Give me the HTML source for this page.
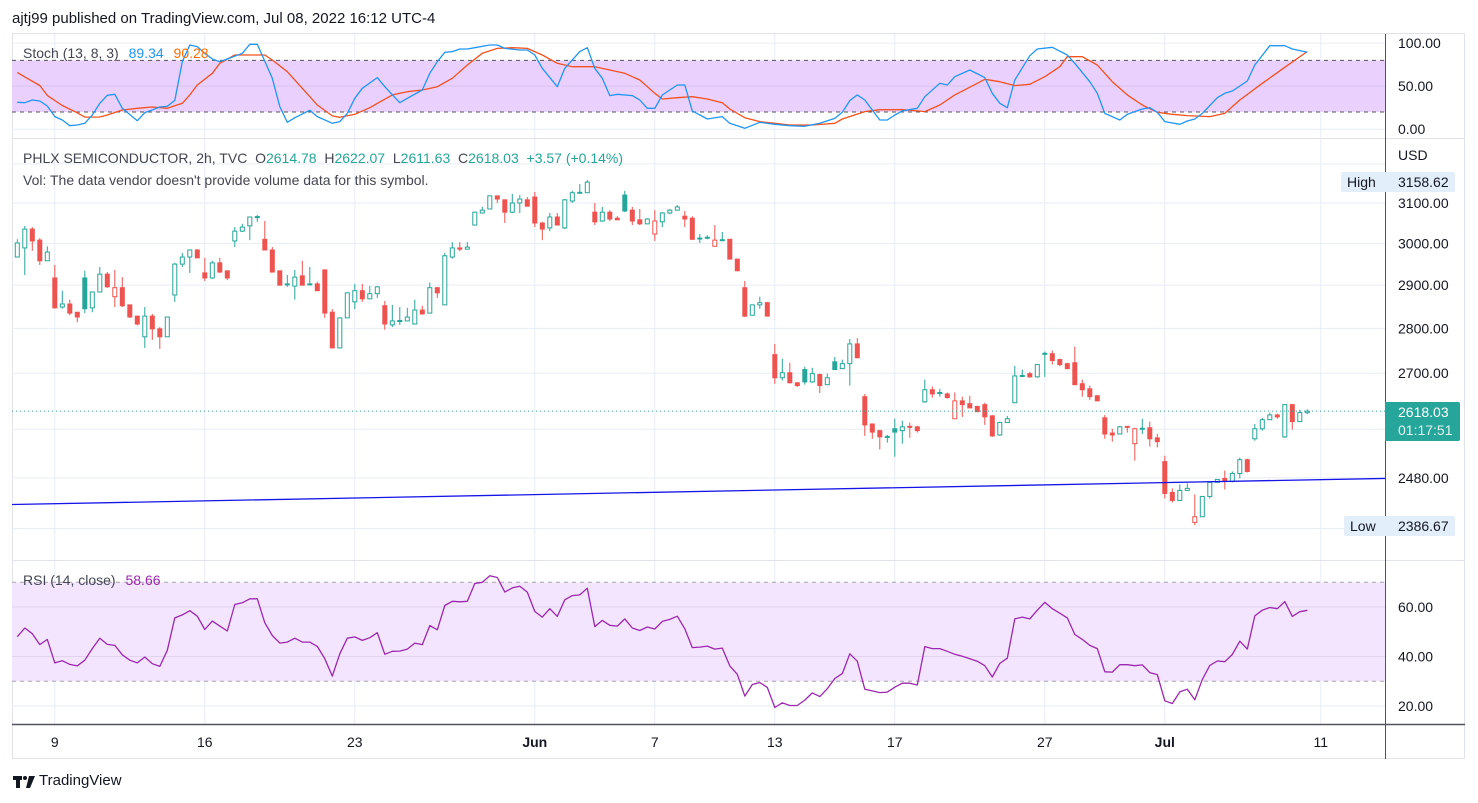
<!DOCTYPE html>
<html><head><meta charset="utf-8"><title>PHLX Semiconductor 2h</title>
<style>
html,body{margin:0;padding:0;background:#fff;}
body{width:1478px;height:803px;position:relative;overflow:hidden;font-family:"Liberation Sans",sans-serif;color:#131722;}
.t{position:absolute;white-space:nowrap;font-size:14px;line-height:16px;}
svg{position:absolute;left:0;top:0;}
</style></head><body>
<svg id="chart" width="1478" height="803" xmlns="http://www.w3.org/2000/svg"></svg>

<div class="t" style="left:12px;top:11px;font-size:15px;color:#131722;">ajtj99 published on TradingView.com, Jul 08, 2022 16:12 UTC-4</div>

<div class="t" style="left:23px;top:45px;color:#434651;">Stoch (13, 8, 3) <span style="color:#2196f3;margin-left:6px;">89.34</span> <span style="color:#ff6d00;margin-left:6px;">90.28</span></div>

<div class="t" style="left:23px;top:150px;color:#434651;">PHLX SEMICONDUCTOR, 2h, TVC &nbsp;O<span style="color:#26a69a">2614.78</span> &nbsp;H<span style="color:#26a69a">2622.07</span> &nbsp;L<span style="color:#26a69a">2611.63</span> &nbsp;C<span style="color:#26a69a">2618.03</span> &nbsp;<span style="color:#26a69a">+3.57 (+0.14%)</span></div>
<div class="t" style="left:23px;top:172px;color:#434651;">Vol: The data vendor doesn't provide volume data for this symbol.</div>

<div class="t" style="left:23px;top:572px;color:#434651;">RSI (14, close) <span style="color:#9c27b0;margin-left:6px;">58.66</span></div>

<div class="t" style="left:1398px;top:147px;color:#131722;">USD</div>

<div style="position:absolute;left:1341px;top:172px;width:114px;height:20px;background:#e3eefb;border-radius:2px;"></div>
<div class="t" style="left:1347px;top:174px;">High</div>
<div class="t" style="left:1398px;top:174px;">3158.62</div>

<div style="position:absolute;left:1344px;top:516px;width:111px;height:20px;background:#e3eefb;border-radius:2px;"></div>
<div class="t" style="left:1350px;top:518px;">Low</div>
<div class="t" style="left:1398px;top:518px;">2386.67</div>

<div style="position:absolute;left:1385px;top:402px;width:75px;height:39px;background:#26a69a;border-radius:0 2px 2px 0;"></div>
<div class="t" style="left:1398px;top:404px;color:#fff;">2618.03</div>
<div class="t" style="left:1398px;top:422px;color:#e0f5f2;">01:17:51</div>

<div style="position:absolute;left:13px;top:773px;height:18px;">
<svg width="24" height="16" style="position:absolute;left:0;top:1px;"><rect x="0" y="2" width="9" height="4" fill="#131722"/><rect x="3" y="2" width="4" height="12" fill="#131722"/><circle cx="12" cy="4" r="2" fill="#131722"/><path d="M16 2 H22 L17 14 H13 Z" fill="#131722"/></svg>
<span class="t" style="left:26px;top:0;font-size:15px;color:#131722;">TradingView</span></div>

<script>
// ---- candle data (2h bars) ----
const opens=[2967,2989,3035,3008,2958,2917,2849,2856,2837,2917,2847,2884,2926,2873,2894,2854,2828,2781,2828,2799,2781,2877,2950,2967,2984,2929,2917,2953,2934,3006,3030,3043,3064,3010,2984,2934,2901,2898,2922,2901,2903,2936,2837,2756,2824,2861,2887,2868,2880,2852,2808,2816,2817,2810,2842,2835,2894,2854,2967,2989,2986,3045,3075,3085,3118,3108,3077,3100,3108,3115,3050,3038,3065,3038,3105,3125,3126,3077,3055,3077,3062,3120,3082,3058,3048,3023,3053,3075,3082,3067,3062,3011,3013,2993,3007,3010,2962,2894,2830,2854,2859,2741,2690,2701,2679,2708,2681,2697,2675,2725,2710,2721,2765,2649,2591,2577,2563,2581,2577,2586,2585,2638,2664,2658,2655,2602,2640,2634,2628,2632,2608,2568,2594,2636,2693,2699,2692,2742,2743,2730,2721,2723,2677,2666,2651,2604,2572,2570,2586,2550,2580,2583,2562,2513,2451,2435,2455,2392,2403,2443,2471,2479,2473,2489,2517,2560,2581,2600,2610,2564,2632,2596,2614.78];
const highs=[3010,3043,3040,3013,2993,2948,2887,2866,2837,2934,2884,2943,2931,2936,2919,2854,2828,2849,2833,2803,2826,2953,2977,2984,2986,2965,2958,2965,2934,3040,3048,3065,3070,3055,2991,2934,2924,2936,2958,2943,2908,2938,2844,2824,2882,2903,2903,2898,2898,2863,2854,2849,2847,2866,2852,2906,2896,2977,3003,3003,3003,3078,3090,3118,3118,3108,3123,3120,3115,3128,3053,3075,3075,3110,3131,3148,3158.62,3100,3090,3082,3067,3131,3090,3085,3062,3082,3077,3085,3095,3080,3067,3023,3020,3045,3028,3010,2962,2910,2854,2873,2861,2765,2732,2723,2681,2714,2712,2699,2699,2736,2730,2776,2778,2655,2591,2579,2568,2602,2598,2594,2587,2686,2671,2666,2658,2658,2649,2651,2630,2636,2610,2596,2608,2716,2708,2703,2719,2748,2750,2732,2723,2759,2686,2673,2653,2610,2581,2587,2586,2583,2602,2596,2570,2525,2459,2467,2469,2447,2443,2473,2477,2495,2493,2521,2519,2591,2604,2615,2613,2632,2632,2621,2622.07];
const lows=[2966,2924,2982,2948,2958,2847,2845,2830,2814,2835,2837,2884,2894,2849,2849,2824,2807,2756,2774,2754,2781,2861,2943,2929,2965,2910,2915,2929,2912,2991,3028,3008,3053,2984,2931,2900,2896,2866,2900,2900,2887,2824,2756,2756,2824,2844,2861,2868,2870,2797,2803,2808,2817,2810,2833,2835,2870,2854,2963,2981,2986,3045,3075,3085,3100,3050,3075,3075,3092,3040,3008,3030,3045,3035,3100,3124,3126,3045,3053,3055,3058,3077,3045,3045,3048,3006,3040,3072,3082,3040,3008,3001,3010,2993,3006,2962,2934,2826,2830,2845,2828,2677,2684,2679,2670,2675,2679,2657,2675,2708,2710,2673,2734,2566,2560,2538,2552,2523,2550,2562,2573,2636,2647,2649,2645,2602,2606,2625,2617,2589,2564,2566,2594,2636,2692,2690,2690,2692,2719,2715,2710,2675,2649,2642,2640,2560,2554,2570,2573,2515,2570,2544,2542,2439,2431,2435,2455,2386.67,2403,2439,2471,2457,2471,2479,2491,2556,2577,2600,2602,2562,2579,2596,2611.63];
const closes=[3001,3035,3006,2958,2979,2847,2856,2835,2826,2845,2884,2926,2896,2894,2852,2826,2810,2828,2799,2781,2826,2950,2967,2984,2965,2917,2953,2931,2917,3030,3040,3065,3066,2984,2931,2900,2903,2919,2900,2903,2887,2835,2756,2824,2882,2887,2868,2880,2896,2810,2817,2818,2826,2842,2833,2894,2882,2970,2989,2986,2991,3077,3082,3118,3110,3077,3100,3110,3092,3050,3035,3065,3045,3108,3126,3127,3153,3053,3077,3060,3058,3080,3055,3048,3060,3055,3075,3082,3090,3060,3010,3013,3015,3008,3009,2962,2934,2828,2854,2859,2828,2690,2701,2679,2673,2681,2699,2673,2690,2708,2721,2765,2734,2589,2574,2564,2565,2574,2585,2584,2577,2664,2655,2656,2647,2640,2632,2625,2617,2606,2566,2594,2602,2694,2695,2692,2719,2744,2728,2719,2710,2675,2664,2649,2640,2570,2568,2585,2584,2581,2582,2560,2554,2449,2435,2455,2459,2403,2443,2471,2477,2473,2489,2517,2493,2581,2600,2610,2606,2632,2596,2615,2618.03];

// ---- stochastic (vertex bars / values) ----
const kBars=[0,1,2,3,4,5,6,7,8,9,10,11,12,13,14,16,17,19,20,21,22,23,24,25,26,27,28,30,31,32,34,35,36,37,39,40,42,43,44,45,46,48,49,51,52,54,55,56,57,58,59,60,61,63,64,65,67,68,69,70,72,73,75,76,77,78,79,80,82,83,84,85,86,88,89,90,92,94,95,97,99,101,103,105,107,109,110,111,112,113,115,116,117,118,120,121,123,124,125,127,129,130,131,132,133,135,136,138,140,141,143,144,145,147,148,150,151,152,153,155,156,157,158,160,161,162,164,165,167,169,170,172];
const kVals=[31.2,30.8,33.9,32.8,27.0,14.6,10.7,4.1,4.9,6.8,16.5,30.1,39.4,40.5,24.3,9.9,19.2,25.8,26.6,33.5,78.4,97.8,95.9,88.1,81.5,78.4,81.5,88.1,98.6,98.6,59.1,26.2,8.0,13.4,21.9,14.6,6.8,8.8,18.4,35.9,47.5,59.9,49.4,30.8,35.9,45.5,64.9,78.4,89.3,90.1,93.1,93.1,94.7,97.8,97.8,93.9,92.0,92.0,86.2,70.7,49.4,70.7,90.1,94.7,70.7,59.1,39.0,40.5,39.0,33.9,24.3,24.3,39.7,51.3,51.3,21.2,11.9,14.6,6.8,1.0,8.0,5.7,4.1,3.4,6.8,12.6,19.6,33.2,39.8,33.9,10.7,10.7,16.5,21.2,24.3,37.8,53.3,51.3,61.0,68.8,59.9,41.7,30.1,25.0,57.2,85.4,93.1,95.1,86.2,76.5,55.2,41.7,18.4,10.7,17.3,23.5,25.0,19.6,8.8,5.7,9.5,11.9,18.4,36.6,41.7,44.4,56.0,74.6,97.0,97.0,93.1,89.34];
const dBars=[0,1,3,4,6,8,9,11,12,14,16,18,20,22,23,24,26,27,29,33,34,36,38,40,42,43,45,47,50,52,54,56,58,60,62,64,66,68,70,72,74,77,79,81,83,85,86,88,90,92,94,95,97,99,101,103,106,109,110,113,115,118,120,121,123,125,128,129,131,133,135,137,139,140,142,144,146,148,150,152,154,156,159,161,163,166,169,172];
const dVals=[66,60.8,50.8,39.2,27.5,19.0,14.0,14.2,16.5,22.3,24.3,25.8,24.3,30.1,39.8,51.3,64.9,76.5,86.2,86.2,80.4,66.8,47.5,28.1,15.4,13.8,17.3,25.0,39.8,43.6,45.5,49.4,59.1,74.6,88.1,93.9,94.7,93.9,86.2,76.5,72.6,72.6,68.8,64.9,57.2,41.7,35.1,36.6,37.8,35.1,30.8,23.5,13.4,8.8,6.8,4.9,4.9,6.8,11.9,20.4,22.7,22.7,21.2,20.4,28.1,39.8,53.3,57.9,55.2,50.6,52.1,61.0,72.6,84.2,84.2,74.6,55.2,39.8,28.1,19.6,17.3,15.8,14.6,18.4,33.9,53.3,71.9,90.28];

// ---- RSI per bar ----
const rsiVals=[48,51.5,49.2,44.8,46.9,37.4,38.3,36.8,36.2,38.5,43.2,47.4,44.9,44.5,40.7,38.5,37.4,39.8,37.1,36.0,42.5,55.6,56.8,58.5,56.3,50.9,54.3,52.3,50.3,61.0,61.7,63.3,63.3,53.6,48.5,45.4,45.8,47.4,45.8,45.8,44.1,39.1,32.1,41.1,47.4,47.9,46.5,47.6,49.6,40.9,42.1,42.2,43.0,45.4,44.8,52.5,50.8,60.6,62.3,62.1,62.3,69.5,70.0,72.6,71.9,66.0,67.7,68.4,66.0,58.2,55.9,59.3,56.2,62.9,64.6,64.9,67.6,52.1,54.6,52.6,52.3,55.2,51.5,50.5,51.9,51.1,54.2,55.0,56.3,51.2,43.6,43.8,44.2,43.0,43.4,36.2,32.8,24.0,28.7,29.5,27.5,19.4,21.3,20.2,20.2,22.4,25.3,23.8,27.0,31.1,33.1,41.1,38.1,26.8,26.1,25.4,25.6,27.6,29.2,29.2,28.5,44.0,43.2,43.2,42.1,40.9,40.1,39.1,38.1,36.3,31.7,37.2,39.3,55.2,55.9,55.2,58.7,61.9,59.3,57.5,55.6,48.9,46.9,44.5,43.2,33.8,33.7,36.7,36.7,36.3,36.6,33.5,32.7,22.1,21.0,25.7,26.8,22.5,30.7,36.4,38.2,37.9,40.8,46.2,43.0,56.4,58.7,59.8,59.3,62.2,56.2,58.1,58.66];

// ---- axes / ticks ----
const priceTicks=[3200,3100,3000,2900,2800,2700,2580,2480,2380];
const priceLabelTicks=[3100,3000,2900,2800,2700,2480];
const stochTicks=[100,50,0];
const rsiTicks=[60,40,20];
const dateLabels=["9","16","23","Jun","7","13","17","27","Jul","11"];
const dateBars=[5,25,45,69,85,101,117,137,153,173.8];
const trendBars=[-0.7,182.4];
const trendPrices=[2427,2479];
const lastPrice=2618.03;

const NS="http://www.w3.org/2000/svg";
const svg=document.getElementById('chart');
const L=12,R=1385;
const xOf=i=>17.3+i*7.5;
const yP=p=>203+(Math.log(3100)-Math.log(p))*1232;
const yS=v=>129.2-0.861*v;
const yR=v=>607+(60-v)*2.475;

function mk(tag,attrs,parent){const e=document.createElementNS(NS,tag);for(const k in attrs)e.setAttribute(k,attrs[k]);(parent||svg).appendChild(e);return e;}

const defs=mk('defs',{});
[['clipS',33,105],['clipM',138,422],['clipR',560,164]].forEach(c=>{const cp=mk('clipPath',{id:c[0]},defs);mk('rect',{x:L,y:c[1],width:R-L,height:c[2]},cp);});

const frame=mk('rect',{x:12.5,y:33.5,width:1452,height:725,fill:'none',stroke:'#e0e3eb'});



dateBars.forEach((b,k)=>{
  const g=mk('line',{x1:xOf(b),x2:xOf(b),y1:34,y2:724,stroke:'#e6edf4','stroke-width':1});
  
  
  const t=mk('text',{x:xOf(b),y:747,'text-anchor':'middle','font-size':14,fill:'#131722','font-family':'Liberation Sans, sans-serif','font-weight':(dateLabels[k]==='Jun'||dateLabels[k]==='Jul')?'bold':'normal'});
  t.textContent=dateLabels[k];
  
  
});

// ---- stoch pane ----
const sband=mk('rect',{x:L,y:yS(80),width:R-L,height:yS(20)-yS(80),fill:'#e9d0fd'});


stochTicks.forEach(v=>{
  const g=mk('line',{x1:L,x2:R,y1:yS(v),y2:yS(v),stroke:v===50?'#d8c2ef':'#e6edf4'});
  
  
  const t=mk('text',{x:1398,y:yS(v)+5,'font-size':14,fill:'#131722','font-family':'Liberation Sans, sans-serif'});
  t.textContent=v.toFixed(2);
  
  
});
[80,20].forEach(v=>{const d=mk('line',{x1:L,x2:R,y1:yS(v),y2:yS(v),stroke:'#555','stroke-dasharray':'4 4'});
  
  });
function poly(bars,vals,fy,color,clip,name){
  const pts=bars.map((b,k)=>xOf(b).toFixed(1)+','+fy(vals[k]).toFixed(1)).join(' ');
  const p=mk('polyline',{points:pts,fill:'none',stroke:color,'stroke-width':1.3,'clip-path':'url(#'+clip+')','stroke-linejoin':'round'});
  
  
}
poly(dBars,dVals,yS,'#f4511e','clipS','stoch-d-line');
poly(kBars,kVals,yS,'#2196f3','clipS','stoch-k-line');
const sep1=mk('line',{x1:12,x2:1465,y1:138.5,y2:138.5,stroke:'#e0e3eb'});



// ---- main pane ----
priceTicks.forEach(p=>{
  const g=mk('line',{x1:L,x2:R,y1:yP(p),y2:yP(p),stroke:'#e6edf4'});
  
  
});
priceLabelTicks.forEach(p=>{
  const t=mk('text',{x:1398,y:yP(p)+5,'font-size':14,fill:'#131722','font-family':'Liberation Sans, sans-serif'});
  t.textContent=p.toFixed(2);
  
  
});
const gC=mk('g',{'clip-path':'url(#clipM)'});


closes.forEach((c,i)=>{
  const o=opens[i],h=highs[i],l=lows[i];
  const prev=i>0?closes[i-1]:o;
  const col=c>=prev?'#26a69a':'#ef5350';
  const hollow=c>o;
  const x=xOf(i);
  const w=mk('line',{x1:x,x2:x,y1:yP(h),y2:yP(l),stroke:col,'stroke-width':1},gC);
  
  
  const top=yP(Math.max(o,c)),bot=yP(Math.min(o,c));
  const hgt=Math.max(bot-top,1);
  const b=hollow?mk('rect',{x:x-2,y:top,width:4,height:hgt,fill:'#fff',stroke:col,'stroke-width':1},gC)
               :mk('rect',{x:x-2.5,y:top-0.5,width:5,height:hgt+1,fill:col},gC);
  
  
});
const tl=mk('line',{x1:xOf(trendBars[0]),y1:yP(trendPrices[0]),x2:xOf(trendBars[1]),y2:yP(trendPrices[1]),stroke:'#1515e8','stroke-width':1.3,'clip-path':'url(#clipM)'});


const lp=mk('line',{x1:L,x2:R,y1:yP(lastPrice),y2:yP(lastPrice),stroke:'#26a69a','stroke-dasharray':'1 3','stroke-width':1});


const sep2=mk('line',{x1:12,x2:1465,y1:560.5,y2:560.5,stroke:'#e0e3eb'});



// ---- RSI pane ----
const rband=mk('rect',{x:L,y:yR(70),width:R-L,height:yR(30)-yR(70),fill:'#f3e5fd'});


rsiTicks.forEach(v=>{
  const g=mk('line',{x1:L,x2:R,y1:yR(v),y2:yR(v),stroke:(v===20)?'#e6edf4':'#e0d4ef'});
  
  
  const t=mk('text',{x:1398,y:yR(v)+5,'font-size':14,fill:'#131722','font-family':'Liberation Sans, sans-serif'});
  t.textContent=v.toFixed(2);
  
  
});
[70,30].forEach(v=>{const d=mk('line',{x1:L,x2:R,y1:yR(v),y2:yR(v),stroke:'#a8a3b0','stroke-dasharray':'4 4'});
  
  });
poly(rsiVals.map((v,i)=>i),rsiVals,yR,'#9c27b0','clipR','rsi-line');

const ax=mk('line',{x1:12,x2:1465,y1:724.5,y2:724.5,stroke:'#50535e','stroke-width':1.5});


const ay=mk('line',{x1:1385.5,x2:1385.5,y1:34,y2:759,stroke:'#50535e','stroke-width':1});


</script>
</body></html>
